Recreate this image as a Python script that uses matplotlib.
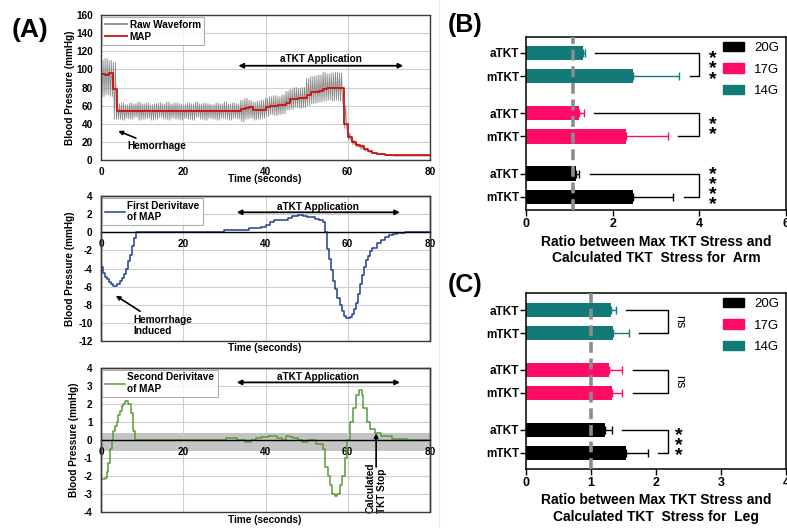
import numpy as np
import matplotlib
matplotlib.use("Agg")
import matplotlib.pyplot as plt
from matplotlib.patches import Rectangle
from matplotlib.lines import Line2D

plt.rcParams['font.family'] = ['Liberation Sans', 'DejaVu Sans']
plt.rcParams['font.weight'] = 'bold'
plt.rcParams['axes.labelweight'] = 'bold'
plt.rcParams['axes.unicode_minus'] = False

W, H = 787, 528

# ---------------- panel A data ----------------
# raw waveform envelope, one value per second (0..80)
raw_high = [110, 112, 110, 108] + [62, 63, 61, 63, 62, 64, 62, 63, 61, 62, 63, 62, 64, 62, 63, 62,
                                   61, 63, 62, 64, 62, 63, 62, 61, 63, 62, 64, 62, 63, 62] + \
           [66, 68, 66, 64, 65, 66] + [68, 70, 71, 70, 72] + [76, 78, 80, 79, 80] + \
           [90, 92, 93, 94] + [97, 95, 96, 97, 96] + \
           [60, 30, 22, 18, 15, 12, 10, 8, 7, 7, 6, 6] + [5] * 10
raw_low = [70, 72, 70, 45] + [45, 44, 46, 45, 47, 44, 45, 46, 44, 45, 47, 45, 44, 46, 45, 44,
                              46, 45, 44, 47, 45, 44, 46, 45, 44, 46, 45, 44, 46, 45] + \
          [42, 45, 46, 44, 45, 46] + [48, 50, 49, 50, 51] + [55, 56, 58, 57, 58] + \
          [60, 62, 63, 64] + [65, 66, 65, 66, 65] + \
          [35, 22, 17, 14, 12, 10, 8, 7, 6, 6, 5, 5] + [4] * 10
map_vals = [95, 94, 96, 78] + [54] * 30 + [56, 57, 58, 55, 55, 55] + [59, 60, 60, 61, 61] + \
           [63, 67, 67, 68, 68] + [72, 75, 75, 76] + [78, 79, 79, 80, 80] + \
           [40, 25, 20, 17, 15, 12, 10, 8, 7, 7, 6, 6] + [5] * 10
seconds = np.arange(len(map_vals))

d1_t = [0, 0.5, 1, 1.5, 2, 2.5, 3, 3.5, 4, 4.5, 5, 5.5, 6, 6.5, 7, 7.5, 8, 8.5, 30, 31, 35, 36,
        39, 40, 41, 42, 44, 45.5, 46.5, 48, 49, 50, 52, 53, 54, 54.5, 55, 55.5, 56, 56.5, 57,
        57.5, 58, 58.5, 59, 59.5, 60.5, 61, 61.5, 62, 62.5, 63, 63.5, 64, 64.5, 65, 65.5, 66,
        67, 68, 69, 70, 71, 72, 74, 80]
d1_v = [-3.8, -4.5, -4.9, -5.2, -5.5, -5.7, -5.9, -5.9, -5.7, -5.4, -5.0, -4.6, -4.0, -3.2,
        -2.5, -1.5, -0.6, 0, 0.2, 0.3, 0.3, 0.5, 0.6, 0.8, 1.1, 1.3, 1.4, 1.6, 1.8, 1.9, 1.8,
        1.7, 1.5, 1.4, 1.1, 0, -1.8, -3.0, -4.2, -5.4, -6.3, -7.2, -8.0, -8.7, -9.2, -9.5,
        -9.4, -9.0, -8.5, -7.8, -6.8, -5.7, -4.7, -3.8, -3.1, -2.6, -2.1, -1.7, -1.2, -0.8,
        -0.5, -0.3, -0.2, -0.1, 0, 0]

d2_t = [0, 1, 1.4, 1.8, 2.2, 2.6, 3, 3.4, 3.8, 4.2, 4.5, 5, 5.4, 5.8, 6.2, 6.6, 7.2, 7.7, 8.3,
        29, 30.5, 31.4, 33, 35, 36.5, 37.8, 39, 40.7, 41.7, 42.7, 44, 45, 46, 46.8, 48, 48.8,
        50.4, 52.4, 53.9, 54.5, 55.3, 55.7, 56.2, 56.9, 57.5, 58, 58.5, 59.3, 59.7, 60.5,
        61.3, 62, 62.8, 63.4, 63.8, 64.6, 65.4, 66.6, 68.2, 70.7, 74.3, 80]
d2_v = [-2.15, -2.1, -1.8, -1.3, -0.5, 0, 0.5, 0.8, 1.0, 1.4, 1.6, 1.9, 2.0, 2.15, 2.15, 2.0,
        1.5, 0.5, 0, 0, 0.1, 0.1, 0, -0.1, 0, 0.1, 0.15, 0.25, 0.2, 0.1, 0, 0.2, 0.15, 0.1, 0,
        -0.1, 0, -0.2, -0.5, -1.5, -2.0, -2.5, -3.0, -3.1, -3.0, -2.5, -2.0, -1.0, 0, 1.0,
        1.8, 2.5, 2.8, 2.5, 1.8, 1.0, 0.6, 0.4, 0.2, 0.05, 0, 0]

# ---------------- panels B / C data ----------------
groups = ['20G', '17G', '14G']
colors = ['#000000', '#ff0a64', '#127b77']
bar_labels = ['mTKT', 'aTKT', 'mTKT', 'aTKT', 'mTKT', 'aTKT']
bar_pos = [0, 1, 2.6, 3.6, 5.2, 6.2]

arm_mean = [2.46, 1.16, 2.31, 1.23, 2.46, 1.31]
arm_err = [0.93, 0.07, 0.97, 0.10, 1.07, 0.05]
arm_sig = ['****', '**', '***']
arm_brk_a = [1.48, 1.56, 1.60]
arm_brk_m = [3.64, 3.50, 3.78]
arm_brk_x = 4.0
arm_ref = 1.09

leg_mean = [1.54, 1.21, 1.32, 1.28, 1.34, 1.31]
leg_err = [0.34, 0.12, 0.15, 0.19, 0.24, 0.07]
leg_sig = ['***', 'ns', 'ns']
leg_brk_a = [1.48, 1.64, 1.54]
leg_brk_m = [2.03, 1.64, 1.74]
leg_brk_x = 2.19
leg_ref = 1.0

fig = plt.figure(figsize=(W / 100, H / 100), dpi=100)


def add_axes(l, t, r, b):
    return fig.add_axes([l / W, 1 - b / H, (r - l) / W, (b - t) / H])


def excel_style(ax, ylim, ystep):
    ax.set_xlim(0, 80)
    ax.set_ylim(*ylim)
    ax.set_xticks([0, 20, 40, 60, 80])
    ax.set_yticks(np.arange(ylim[0], ylim[1] + 0.1, ystep))
    ax.tick_params(length=0, labelsize=7.2)
    ax.tick_params(axis='x', pad=5)
    ax.tick_params(axis='y', pad=6)
    ax.grid(True, color='#cfcfcf', lw=0.8)
    ax.set_axisbelow(True)
    for s in ax.spines.values():
        s.set_color('#3a3a3a')
        s.set_linewidth(1)


def span_arrow(ax, x0, x1, y, ty):
    ax.annotate('', xy=(x0, y), xytext=(x1, y),
                arrowprops=dict(arrowstyle='<|-|>', color='black', lw=1.3,
                                mutation_scale=7, shrinkA=0, shrinkB=0))
    ax.text((x0 + x1) / 2, ty, 'aTKT Application', ha='center', va='center', fontsize=7.2)


def ylabel(ax, x):
    pos = ax.get_position()
    fig.text(x / W, pos.y0 + pos.height / 2, 'Blood Pressure (mmHg)', rotation=90,
             ha='center', va='center', fontsize=7.2)


def small_legend(ax, handlelength=2.0):
    leg = ax.legend(loc='upper left', bbox_to_anchor=(0.0, 1.0), fontsize=7.2, frameon=True,
                    fancybox=False, edgecolor='#9a9a9a', handlelength=handlelength,
                    borderpad=0.3, labelspacing=0.2, handletextpad=0.2, borderaxespad=0.15)
    leg.get_frame().set_linewidth(0.8)
    return leg


# ---- A top ----
ax1 = add_axes(101, 15, 430, 160)
excel_style(ax1, (0, 160), 20)
# two beats per second, drawn between the read envelope values
zz_t = np.ravel(np.column_stack([seconds, seconds + 0.25, seconds + 0.5, seconds + 0.75]))
zz_v = np.ravel(np.column_stack([raw_high, raw_low, raw_high, raw_low]))
ax1.plot(zz_t, zz_v, color='#8a8a8a', lw=0.6, label='Raw Waveform')
ax1.plot(seconds, map_vals, color='#cc1111', lw=1.3, drawstyle='steps-post', label='MAP')
leg = small_legend(ax1, 2.2)
for l in leg.get_lines():
    l.set_linewidth(1.3)
span_arrow(ax1, 33.4, 73.5, 104, 112)
ax1.annotate('Hemorrhage', xy=(4.2, 32), xytext=(6.3, 15), fontsize=7.2, va='center',
             arrowprops=dict(arrowstyle='-|>', color='black', lw=1.2, mutation_scale=6,
                             shrinkA=1, shrinkB=0))
ylabel(ax1, 70)
fig.text(265 / W, 1 - 179 / H, 'Time (seconds)', ha='center', va='center', fontsize=7.2)

# ---- A middle ----
ax2 = add_axes(101, 196, 430, 341)
excel_style(ax2, (-12, 4), 2)
ax2.spines['bottom'].set_position(('data', 0))
ax2.spines['bottom'].set_color('black')
ax2.add_patch(Rectangle((0, 0), 1, 1, transform=ax2.transAxes, fill=False,
                        edgecolor='#3a3a3a', lw=1, clip_on=False, zorder=5))
ax2.plot(d1_t, d1_v, color='#1f3f8f', lw=1.1, drawstyle='steps-post',
         label='First Derivitave\nof MAP')
small_legend(ax2)
span_arrow(ax2, 33, 72.7, 2.2, 2.8)
ax2.annotate('Hemorrhage\nInduced', xy=(3.6, -7.0), xytext=(7.8, -10.3), fontsize=7.2,
             va='center', arrowprops=dict(arrowstyle='-|>', color='black', lw=1.2,
                                          mutation_scale=6, shrinkA=1, shrinkB=0))
ylabel(ax2, 70)
fig.text(265 / W, 1 - 348 / H, 'Time (seconds)', ha='center', va='center', fontsize=7.2)

# ---- A bottom ----
ax3 = add_axes(101, 368, 430, 512)
excel_style(ax3, (-4, 4), 1)
ax3.spines['bottom'].set_position(('data', 0))
ax3.spines['bottom'].set_color('black')
ax3.add_patch(Rectangle((0, 0), 1, 1, transform=ax3.transAxes, fill=False,
                        edgecolor='#3a3a3a', lw=1, clip_on=False, zorder=5))
ax3.axhspan(-0.6, 0.4, color='#c4c4c4', zorder=0.5, lw=0)
ax3.plot(d2_t, d2_v, color='#5a9a3a', lw=1.1, drawstyle='steps-post',
         label='Second Derivitave\nof MAP')
small_legend(ax3)
span_arrow(ax3, 33, 72.7, 3.2, 3.5)
ax3.annotate('', xy=(66.9, 0.37), xytext=(66.9, -1.5),
             arrowprops=dict(arrowstyle='-|>', color='black', lw=1.2, mutation_scale=6,
                             shrinkA=0, shrinkB=0))
ax3.text(66.9, -1.25, 'Calculated\nTKT Stop', rotation=90, ha='center', va='top',
         multialignment='left', fontsize=7.2)
ylabel(ax3, 74)
fig.text(265 / W, 1 - 520 / H, 'Time (seconds)', ha='center', va='center', fontsize=7.2)


# ---------------- panels B / C ----------------
def bar_panel(ax, mean, err, sig, brk_a, brk_m, brk_x, ref, xmax, ylim, xlabel):
    for i in range(len(mean)):
        c = colors[i // 2]
        ax.barh(bar_pos[i], mean[i], height=0.62, color=c, zorder=2)
        ax.errorbar(mean[i], bar_pos[i], xerr=[[0], [err[i]]], color=c, lw=1,
                    capsize=3, capthick=1, zorder=3)
    ax.axvline(ref, color='#8c8c8c', lw=2.6, ls=(0, (3, 1.6)), zorder=4)
    for g in range(3):
        ym, ya = bar_pos[2 * g], bar_pos[2 * g + 1]
        ax.plot([brk_a[g], brk_x, brk_x, brk_m[g]], [ya, ya, ym, ym], color='black', lw=1)
        tx = brk_x + (0.3 if xmax == 6 else 0.16)
        if sig[g] == 'ns':
            ax.text(tx, (ya + ym) / 2, 'ns', rotation=270, ha='center', va='center',
                    fontsize=9, fontweight='normal')
        else:
            ax.text(tx, (ya + ym) / 2 - 0.2, '\n'.join(sig[g]), ha='center', va='center',
                    fontsize=14, linespacing=0.47)
    ax.set_xlim(0, xmax)
    ax.set_ylim(*ylim)
    ax.set_xticks(np.arange(0, xmax + 1, 2 if xmax == 6 else 1))
    ax.set_yticks(bar_pos)
    ax.set_yticklabels(bar_labels)
    ax.tick_params(axis='y', labelsize=8.5, length=4, width=1, pad=1)
    ax.tick_params(axis='x', labelsize=9, length=4, width=1, pad=2)
    for s in ax.spines.values():
        s.set_linewidth(1.1)
    ax.set_xlabel(xlabel, fontsize=10, labelpad=3)
    handles = [Rectangle((0, 0), 1, 1, color=c) for c in colors]
    ax.legend(handles, groups, loc='upper right', bbox_to_anchor=(1.02, 1.04), frameon=False,
              prop={'size': 9.5, 'weight': 'normal'}, handlelength=1.6, handleheight=0.7,
              labelspacing=0.7, handletextpad=0.8)


axB = add_axes(526, 37, 786, 210)
bar_panel(axB, arm_mean, arm_err, arm_sig, arm_brk_a, arm_brk_m, arm_brk_x, arm_ref, 6,
          (-0.57, 6.88), 'Ratio between Max TKT Stress and\nCalculated TKT  Stress for  Arm')

axC = add_axes(526, 293, 786, 469)
bar_panel(axC, leg_mean, leg_err, leg_sig, leg_brk_a, leg_brk_m, leg_brk_x, leg_ref, 4,
          (-0.71, 6.94), 'Ratio between Max TKT Stress and\nCalculated TKT  Stress for  Leg')

fig.add_artist(Line2D([439 / W, 439 / W], [0, 1], color='#ececec', lw=0.8))

fig.text(12 / W, 1 - 30 / H, '(A)', fontsize=19, va='center', ha='left')
fig.text(448 / W, 1 - 25 / H, '(B)', fontsize=18, va='center', ha='left')
fig.text(448 / W, 1 - 285 / H, '(C)', fontsize=18, va='center', ha='left')

fig.savefig('out.png', dpi=100)
